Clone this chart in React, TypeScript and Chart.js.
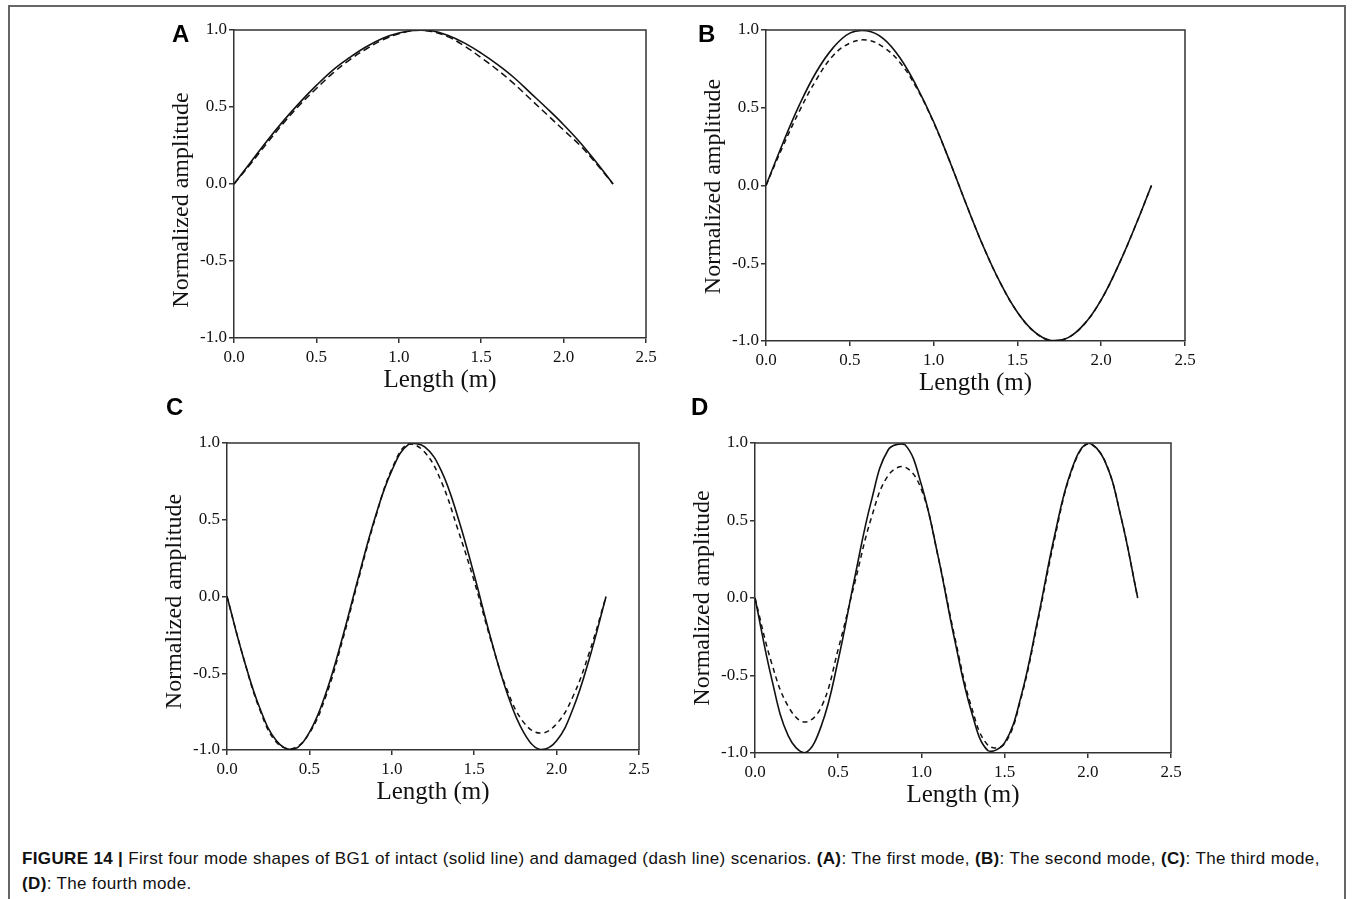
import React, { useEffect, useRef } from "react";
import { Chart, registerables } from "chart.js";

Chart.register(...registerables);

// ---------- data ----------
const lengthM = [0, 0.1, 0.2, 0.3, 0.4, 0.5, 0.6, 0.7, 0.8, 0.9, 1.0, 1.1, 1.2, 1.3, 1.4, 1.5, 1.6, 1.7, 1.8, 1.9, 2.0, 2.1, 2.2, 2.3];

const mode1Intact = [0, 0.14, 0.28, 0.41, 0.53, 0.64, 0.74, 0.82, 0.89, 0.945, 0.98, 0.998, 0.995, 0.965, 0.915, 0.85, 0.775, 0.69, 0.59, 0.49, 0.385, 0.27, 0.14, 0];
const mode1Damaged = [0, 0.13, 0.265, 0.395, 0.515, 0.62, 0.72, 0.805, 0.875, 0.935, 0.975, 0.997, 0.99, 0.955, 0.895, 0.82, 0.74, 0.65, 0.55, 0.45, 0.35, 0.25, 0.13, 0];

const mode2Intact = [0, 0.27, 0.52, 0.73, 0.885, 0.98, 0.995, 0.945, 0.82, 0.635, 0.41, 0.145, -0.135, -0.4, -0.63, -0.815, -0.94, -0.997, -0.98, -0.89, -0.735, -0.52, -0.27, 0];
const mode2Damaged = [0, 0.25, 0.48, 0.68, 0.835, 0.915, 0.935, 0.89, 0.79, 0.625, 0.405, 0.145, -0.135, -0.4, -0.63, -0.815, -0.94, -0.997, -0.98, -0.89, -0.735, -0.52, -0.27, 0];

const mode3Intact = [0, -0.4, -0.73, -0.94, -0.997, -0.885, -0.63, -0.27, 0.135, 0.52, 0.82, 0.99, 0.975, 0.82, 0.52, 0.14, -0.27, -0.63, -0.885, -0.997, -0.94, -0.73, -0.4, 0];
const mode3Damaged = [0, -0.4, -0.74, -0.95, -0.99, -0.89, -0.65, -0.29, 0.12, 0.51, 0.83, 0.995, 0.94, 0.75, 0.44, 0.1, -0.28, -0.61, -0.82, -0.89, -0.83, -0.65, -0.36, 0];

const mode4Intact = [0, -0.52, -0.89, -0.998, -0.82, -0.4, 0.135, 0.63, 0.955, 0.99, 0.73, 0.27, -0.27, -0.73, -0.985, -0.935, -0.63, -0.135, 0.4, 0.82, 0.998, 0.89, 0.52, 0];
const mode4Damaged = [0, -0.42, -0.7, -0.8, -0.7, -0.33, 0.1, 0.52, 0.79, 0.845, 0.7, 0.27, -0.25, -0.7, -0.95, -0.94, -0.64, -0.15, 0.38, 0.81, 0.995, 0.89, 0.52, 0];

const xTickValues = [0, 0.5, 1.0, 1.5, 2.0, 2.5];
const yTickValues = [-1.0, -0.5, 0.0, 0.5, 1.0];

const panelLetters = ["A", "B", "C", "D"];
const xTitle = "Length (m)";
const yTitle = "Normalized amplitude";

// ---------- styling ----------
const SERIF = '"Liberation Serif", "Times New Roman", Times, serif';
const SANS = '"Liberation Sans", Arial, Helvetica, sans-serif';
const AXIS_COLOR = "#333";
const INK = "#111";
const Y_AXIS_W = 84;
const X_AXIS_H = 60;
const PAD_TOP = 20;
const PAD_RIGHT = 30;

const boxPlugin = {
  id: "boxFrame",
  afterDatasetsDraw(chart: any) {
    const { ctx, chartArea } = chart;
    ctx.save();
    ctx.strokeStyle = AXIS_COLOR;
    ctx.lineWidth = 1.5;
    ctx.beginPath();
    ctx.moveTo(chartArea.left, chartArea.top);
    ctx.lineTo(chartArea.right, chartArea.top);
    ctx.lineTo(chartArea.right, chartArea.bottom);
    ctx.stroke();
    ctx.restore();
  },
};

// vertical axis title, drawn beside the y scale with an optional shift along the axis
const yTitlePlugin = {
  id: "yTitleShifted",
  afterDraw(chart: any, _args: any, opts: any) {
    const { ctx, chartArea } = chart;
    const yScale = chart.scales.y;
    const cx = yScale.left + 32;
    const cy = (chartArea.top + chartArea.bottom) / 2 + (opts.shift || 0);
    ctx.save();
    ctx.translate(cx, cy);
    ctx.rotate(-Math.PI / 2);
    ctx.fillStyle = INK;
    ctx.font = `24px ${SERIF}`;
    ctx.textAlign = "center";
    ctx.textBaseline = "middle";
    ctx.fillText(opts.text, 0, 0);
    ctx.restore();
  },
};

type PanelProps = {
  areaLeft: number;
  areaTop: number;
  areaRight: number;
  areaBottom: number;
  intact: number[];
  damaged: number[];
  dash: number[];
  titleShift: number;
};

function Panel({ areaLeft, areaTop, areaRight, areaBottom, intact, damaged, dash, titleShift }: PanelProps) {
  const ref = useRef<HTMLCanvasElement | null>(null);
  const w = areaRight - areaLeft + Y_AXIS_W + PAD_RIGHT;
  const h = areaBottom - areaTop + PAD_TOP + X_AXIS_H;
  const left = areaLeft - Y_AXIS_W;
  const top = areaTop - PAD_TOP;

  useEffect(() => {
    if (!ref.current) return;
    const toPts = (ys: number[]) => lengthM.map((x, i) => ({ x, y: ys[i] }));
    const chart = new Chart(ref.current, {
      type: "line",
      data: {
        datasets: [
          {
            label: "Intact",
            data: toPts(intact),
            borderColor: INK,
            borderWidth: 1.6,
            pointRadius: 0,
            tension: 0.4,
            fill: false,
          },
          {
            label: "Damaged",
            data: toPts(damaged),
            borderColor: INK,
            borderWidth: 1.5,
            borderDash: dash,
            pointRadius: 0,
            tension: 0.4,
            fill: false,
          },
        ],
      },
      options: {
        responsive: false,
        maintainAspectRatio: false,
        animation: false,
        events: [],
        layout: { padding: { left: 0, top: PAD_TOP, right: PAD_RIGHT, bottom: 0 } },
        plugins: {
          legend: { display: false },
          tooltip: { enabled: false },
          yTitleShifted: { text: yTitle, shift: titleShift },
        },
        scales: {
          x: {
            type: "linear",
            min: 0,
            max: 2.5,
            afterBuildTicks: (s: any) => {
              s.ticks = xTickValues.map((v) => ({ value: v }));
            },
            afterFit: (s: any) => {
              s.height = X_AXIS_H;
            },
            ticks: {
              callback: (v: any) => Number(v).toFixed(1),
              font: { family: SERIF, size: 17 },
              color: INK,
              padding: 4,
              maxRotation: 0,
              autoSkip: false,
            },
            grid: { drawOnChartArea: false, drawTicks: true, tickLength: 5, color: AXIS_COLOR, lineWidth: 1.5 },
            border: { display: true, color: AXIS_COLOR, width: 1.5 },
            title: {
              display: true,
              text: xTitle,
              font: { family: SERIF, size: 25 },
              color: INK,
              padding: { top: 0, bottom: 3 },
            },
          },
          y: {
            type: "linear",
            min: -1,
            max: 1,
            afterBuildTicks: (s: any) => {
              s.ticks = yTickValues.map((v) => ({ value: v }));
            },
            afterFit: (s: any) => {
              s.width = Y_AXIS_W;
            },
            ticks: {
              callback: (v: any) => Number(v).toFixed(1),
              font: { family: SERIF, size: 17 },
              color: INK,
              padding: 2,
              autoSkip: false,
            },
            grid: { drawOnChartArea: false, drawTicks: true, tickLength: 5, color: AXIS_COLOR, lineWidth: 1.5 },
            border: { display: true, color: AXIS_COLOR, width: 1.5 },
            title: { display: false },
          },
        },
      },
      plugins: [boxPlugin, yTitlePlugin],
    } as any);
    return () => chart.destroy();
  }, []);

  return (
    <canvas
      ref={ref}
      width={w}
      height={h}
      style={{ position: "absolute", left, top, width: w, height: h }}
    />
  );
}

const letterStyle: React.CSSProperties = {
  position: "absolute",
  fontFamily: SANS,
  fontWeight: 700,
  fontSize: 24,
  lineHeight: "24px",
  color: "#000",
};

const captionStyle: React.CSSProperties = {
  position: "absolute",
  left: 22,
  fontFamily: SANS,
  fontSize: 17,
  letterSpacing: "0.35px",
  lineHeight: "20px",
  color: "#111",
  whiteSpace: "nowrap",
};

export default function App() {
  return (
    <div>
      <div
        style={{
          position: "absolute",
          left: 8,
          top: 5,
          width: 1338,
          height: 894,
          boxSizing: "border-box",
          borderLeft: "2px solid #666",
          borderTop: "2px solid #666",
          borderRight: "2px solid #666",
        }}
      />
      <Panel areaLeft={234} areaTop={30} areaRight={646} areaBottom={338} intact={mode1Intact} damaged={mode1Damaged} dash={[7, 4]} titleShift={16} />
      <Panel areaLeft={766} areaTop={30} areaRight={1185} areaBottom={341} intact={mode2Intact} damaged={mode2Damaged} dash={[5, 4]} titleShift={1} />
      <Panel areaLeft={227} areaTop={443} areaRight={639} areaBottom={750} intact={mode3Intact} damaged={mode3Damaged} dash={[5, 4]} titleShift={5} />
      <Panel areaLeft={755} areaTop={443} areaRight={1171} areaBottom={753} intact={mode4Intact} damaged={mode4Damaged} dash={[5, 4]} titleShift={0} />

      <div style={{ ...letterStyle, left: 172, top: 22 }}>{panelLetters[0]}</div>
      <div style={{ ...letterStyle, left: 698, top: 22 }}>{panelLetters[1]}</div>
      <div style={{ ...letterStyle, left: 166, top: 395 }}>{panelLetters[2]}</div>
      <div style={{ ...letterStyle, left: 691, top: 395 }}>{panelLetters[3]}</div>

      <div style={{ ...captionStyle, top: 849 }}>
        <b>FIGURE 14 |</b> First four mode shapes of BG1 of intact (solid line) and damaged (dash line) scenarios.{" "}
        <b>(A)</b>: The first mode, <b>(B)</b>: The second mode, <b>(C)</b>: The third mode,
      </div>
      <div style={{ ...captionStyle, top: 874 }}>
        <b>(D)</b>: The fourth mode.
      </div>
    </div>
  );
}
